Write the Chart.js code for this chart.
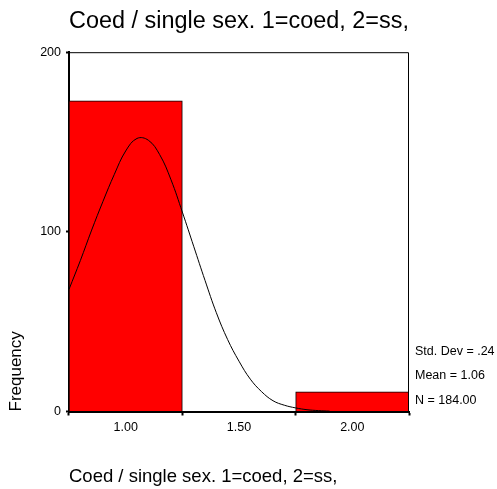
<!DOCTYPE html>
<html>
<head>
<meta charset="utf-8">
<script src="https://cdn.jsdelivr.net/npm/chart.js@4"></script>
<style>
  html, body { margin: 0; padding: 0; background: #fff; }
  #wrap { width: 497px; height: 489px; }
</style>
</head>
<body>
<div id="wrap"><canvas id="chart" width="497" height="489"></canvas></div>
<script>
// histogram bins (bin centres) and counts
const binCenters = [1, 2];
const counts = [173, 11];

// normal curve
const curveX = [0.75, 0.80, 0.85, 0.90, 0.95, 1.00, 1.05, 1.10, 1.15, 1.20, 1.25, 1.30,
  1.35, 1.40, 1.45, 1.50, 1.55, 1.60, 1.65, 1.70, 1.75, 1.80, 1.85, 1.90];
const curveY = [68, 84, 101, 117, 132, 145, 152, 151, 143, 129, 111, 92,
  73, 55, 40, 28, 18, 11, 6, 3.5, 2, 1, 0.5, 0.2];

const xTicks = [1, 1.5, 2];
const yTicks = [0, 100, 200];
const stats = ['Std. Dev = .24', 'Mean = 1.06', 'N = 184.00'];

const title = 'Coed / single sex. 1=coed, 2=ss,';
const FONT = '"Liberation Sans", Arial, sans-serif';

// frame round the plot + the stats text on the right
const extras = {
  id: 'extras',
  afterDraw(c) {
    const ctx = c.ctx;
    const a = c.chartArea;
    ctx.save();
    ctx.strokeStyle = '#000';
    ctx.lineWidth = 1;
    ctx.beginPath();
    ctx.moveTo(a.left, a.top + 0.5);
    ctx.lineTo(a.right - 0.5, a.top + 0.5);
    ctx.lineTo(a.right - 0.5, a.bottom);
    ctx.stroke();
    ctx.fillStyle = '#000';
    ctx.font = '12.5px ' + FONT;
    ctx.textBaseline = 'middle';
    stats.forEach((s, i) => {
      ctx.fillText(s, a.right + 6, a.bottom - 60 + i * 24.5);
    });
    ctx.restore();
  }
};

new Chart(document.querySelector('#chart').getContext('2d'), {
  type: 'bar',
  data: {
    datasets: [
      {
        type: 'line',
        data: curveX.map((x, i) => ({ x: x, y: curveY[i] })),
        borderColor: '#000',
        borderWidth: 1,
        pointRadius: 0,
        tension: 0.4,
        fill: false,
        order: 0
      },
      {
        type: 'bar',
        data: binCenters.map((x, i) => ({ x: x, y: counts[i] })),
        backgroundColor: '#ff0000',
        borderColor: '#000',
        borderWidth: 1,
        categoryPercentage: 1,
        barPercentage: 1,
        order: 1
      }
    ]
  },
  options: {
    responsive: false,
    animation: false,
    layout: { padding: { left: 0, right: 88, top: 0, bottom: 0 } },
    plugins: {
      legend: { display: false },
      tooltip: { enabled: false },
      title: {
        display: true,
        text: title,
        fullSize: false,
        color: '#000',
        font: { family: FONT, size: 23.5, weight: 'normal' },
        padding: { top: 7, bottom: 17 }
      }
    },
    scales: {
      x: {
        type: 'linear',
        min: 0.75,
        max: 2.25,
        offset: false,
        afterBuildTicks: s => { s.ticks = xTicks.map(v => ({ value: v })); },
        afterFit: s => { s.height = 77.5; },
        grid: { display: true, drawOnChartArea: false, drawTicks: true, tickLength: 4, tickWidth: 2, tickColor: '#000' },
        border: { display: true, color: '#000', width: 2 },
        ticks: {
          color: '#000',
          padding: 5,
          font: { family: FONT, size: 12.5 },
          callback: v => v.toFixed(2)
        },
        title: {
          display: true,
          text: title,
          align: 'start',
          color: '#000',
          font: { family: FONT, size: 18.5 },
          padding: { top: 0, bottom: 1 }
        }
      },
      y: {
        min: 0,
        max: 200,
        afterBuildTicks: s => { s.ticks = yTicks.map(v => ({ value: v })); },
        afterFit: s => { s.width = 69; },
        grid: { display: true, drawOnChartArea: false, drawTicks: true, tickLength: 3, tickWidth: 2, tickColor: '#000' },
        border: { display: true, color: '#000', width: 2 },
        ticks: {
          color: '#000',
          padding: 5,
          font: { family: FONT, size: 12.5 }
        },
        title: {
          display: true,
          text: 'Frequency',
          align: 'start',
          color: '#000',
          font: { family: FONT, size: 17 },
          padding: { top: 6, bottom: 18 }
        }
      }
    }
  },
  plugins: [extras]
});
</script>
</body>
</html>
